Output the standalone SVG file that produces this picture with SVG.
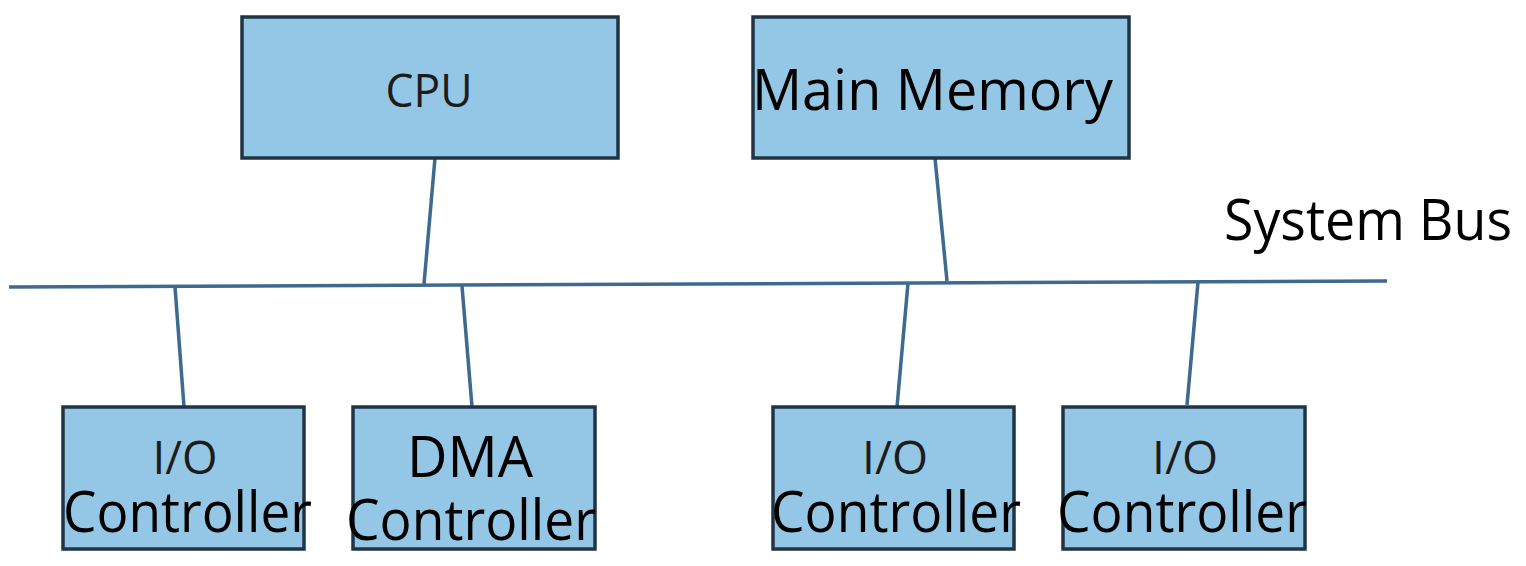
<svg xmlns="http://www.w3.org/2000/svg" width="1526" height="566" viewBox="0 0 1526 566">
<style>
.box{fill:#94c7e6;stroke:#1f3444;stroke-width:3.5}
.wire{stroke:#3d6a8e;stroke-width:3.5;fill:none;stroke-linecap:butt}
.sm{font-family:"Open Sans","Noto Sans",sans-serif;font-size:45px;fill:#1c1c1c;text-anchor:middle}
.lg{font-family:"Open Sans","Noto Sans",sans-serif;font-size:57px;fill:#000}
</style>
<rect width="1526" height="566" fill="#fff"/>
<g id="connectors">
<line class="wire" x1="9" y1="287" x2="1387" y2="281"/>
<line class="wire" x1="435" y1="158" x2="424" y2="284"/>
<line class="wire" x1="935" y1="158" x2="947" y2="281"/>
<line class="wire" x1="175" y1="287" x2="184" y2="407"/>
<line class="wire" x1="462" y1="286" x2="472" y2="407"/>
<line class="wire" x1="908" y1="283" x2="897" y2="407"/>
<line class="wire" x1="1198" y1="282" x2="1187" y2="405"/>
</g>
<g id="cpu">
<rect class="box" x="242" y="17" width="376" height="141"/>
<text class="sm" x="429" y="107" textLength="87" lengthAdjust="spacingAndGlyphs">CPU</text>
</g>
<g id="main-memory">
<rect class="box" x="753" y="17" width="376" height="141"/>
<text class="lg" x="752" y="110" textLength="361" lengthAdjust="spacingAndGlyphs">Main Memory</text>
</g>
<g id="system-bus-label">
<text class="lg" x="1224" y="240" textLength="288" lengthAdjust="spacingAndGlyphs">System Bus</text>
</g>
<g id="io1">
<rect class="box" x="63" y="407" width="241" height="142"/>
<text class="sm" x="185" y="474" textLength="65" lengthAdjust="spacingAndGlyphs">I/O</text>
<text class="lg" x="63" y="532" textLength="249" lengthAdjust="spacingAndGlyphs">Controller</text>
</g>
<g id="dma">
<rect class="box" x="353" y="407" width="242" height="142"/>
<text class="lg" x="407" y="477" textLength="126" lengthAdjust="spacingAndGlyphs">DMA</text>
<text class="lg" x="346" y="540" textLength="250" lengthAdjust="spacingAndGlyphs">Controller</text>
</g>
<g id="io2">
<rect class="box" x="773" y="407" width="241" height="142"/>
<text class="sm" x="895" y="474" textLength="66" lengthAdjust="spacingAndGlyphs">I/O</text>
<text class="lg" x="771" y="532" textLength="250" lengthAdjust="spacingAndGlyphs">Controller</text>
</g>
<g id="io3">
<rect class="box" x="1063" y="407" width="242" height="142"/>
<text class="sm" x="1185" y="474" textLength="66" lengthAdjust="spacingAndGlyphs">I/O</text>
<text class="lg" x="1057" y="532" textLength="250" lengthAdjust="spacingAndGlyphs">Controller</text>
</g>
</svg>
